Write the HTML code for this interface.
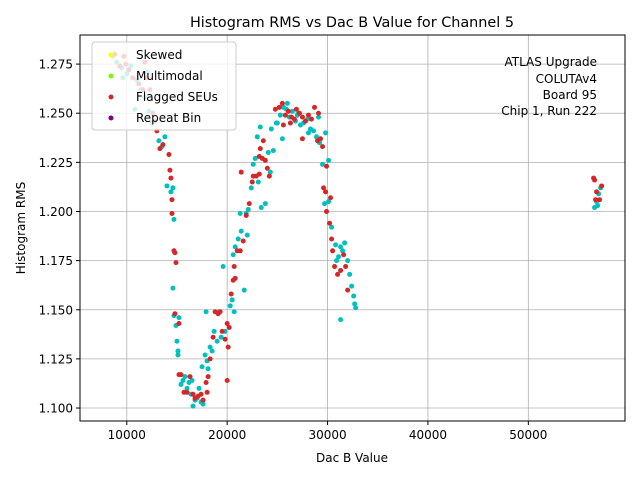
<!DOCTYPE html>
<html><head><meta charset="utf-8"><style>
body{margin:0;background:#fff;}
svg text{font-family:"DejaVu Sans","Liberation Sans",sans-serif;fill:#000;}
</style></head><body>
<svg id="chart" width="640" height="480" viewBox="0 0 640 480" xmlns="http://www.w3.org/2000/svg">
<rect width="640" height="480" fill="#fff"/>
<text x="352" y="27" text-anchor="middle" font-size="14.4">Histogram RMS vs Dac B Value for Channel 5</text>
<g id="grid"></g>
<g id="points"></g>
<rect x="80" y="35" width="545" height="386" fill="none" stroke="#000" stroke-width="1"/>
<g id="ticks"></g>
<text x="352" y="462" text-anchor="middle" font-size="12">Dac B Value</text>
<text transform="translate(25,228) rotate(-90)" text-anchor="middle" font-size="12">Histogram RMS</text>
<g font-size="12" text-anchor="end">
<text x="597" y="66">ATLAS Upgrade</text>
<text x="597" y="83">COLUTAv4</text>
<text x="597" y="99">Board 95</text>
<text x="597" y="115">Chip 1, Run 222</text>
</g>
<g>
<rect x="92" y="42" width="144" height="88" rx="3" fill="rgba(255,255,255,0.8)" stroke="#ccc"/>
<circle cx="111" cy="55" r="2.5" fill="#ffff00"/><text x="136" y="59" font-size="12">Skewed</text>
<circle cx="111" cy="76" r="2.5" fill="#7cfc00"/><text x="136" y="80" font-size="12">Multimodal</text>
<circle cx="111" cy="97" r="2.5" fill="#d62728"/><text x="136" y="101" font-size="12">Flagged SEUs</text>
<circle cx="111" cy="118" r="2.5" fill="#800080"/><text x="136" y="122" font-size="12">Repeat Bin</text>
</g>
</svg>
<script>
const xTicks=[10000,20000,30000,40000,50000];
const yTicks=[1.100,1.125,1.150,1.175,1.200,1.225,1.250,1.275];
const cyanX=[8600,9000,9500,10000,10400,11000,11400,11800,12200,12500,10800,9600,12100,
13200,13500,13800,14000,14400,14600,14700,14600,14700,14900,15000,15100,15100,15200,
15400,15600,15800,16000,16200,16400,16600,16800,17000,17200,17400,17600,17800,18000,18300,18500,18700,19000,19200,19400,19600,19800,17500,17900,18100,16500,
20300,20500,20600,20800,21100,21300,21400,21700,21900,22100,22400,22600,22800,23000,23300,23100,23400,23800,24100,24400,24600,24300,22000,20700,
25000,25300,25600,25900,26200,26500,26800,27000,27300,27600,28000,28300,28600,28900,29100,25500,24900,27100,28100,26000,
29200,29500,29700,30100,30400,30800,31100,31300,31500,31700,32000,32200,32400,32600,32700,32800,31300,30100,30900,29800,
56600,56800,57000,57200,56900];
const cyanY=[1.279,1.276,1.273,1.270,1.274,1.267,1.262,1.258,1.251,1.245,1.252,1.268,1.271,
1.236,1.233,1.238,1.213,1.210,1.212,1.196,1.161,1.147,1.142,1.134,1.129,1.127,1.146,
1.112,1.114,1.116,1.110,1.113,1.107,1.101,1.104,1.105,1.110,1.103,1.102,1.127,1.124,1.131,1.129,1.139,1.134,1.149,1.136,1.172,1.139,1.121,1.149,1.120,1.114,
1.152,1.155,1.178,1.182,1.186,1.199,1.190,1.160,1.199,1.201,1.212,1.224,1.227,1.238,1.243,1.215,1.202,1.204,1.230,1.242,1.231,1.220,1.188,1.149,
1.245,1.249,1.253,1.252,1.248,1.251,1.246,1.249,1.244,1.245,1.247,1.242,1.241,1.238,1.248,1.237,1.245,1.250,1.240,1.255,
1.235,1.224,1.204,1.205,1.192,1.183,1.177,1.182,1.180,1.184,1.175,1.168,1.162,1.157,1.153,1.151,1.145,1.226,1.175,1.240,
1.202,1.205,1.209,1.212,1.203];
const redX=[8800,9300,9700,10200,10600,11200,11600,12000,12300,12600,9900,11800,12800,
13000,13300,13600,14200,14300,14400,14500,14500,14700,14800,14900,14800,15200,15200,15400,
15700,16000,16300,16600,16800,17100,17400,17600,17900,18100,18300,18600,18800,19300,19500,19800,20000,20100,20200,20000,19100,18000,
20400,20600,20800,20700,21000,21300,21600,21900,22200,22500,22600,22900,23200,23300,23500,23800,24000,24200,23600,21400,23200,
24800,25200,25500,25800,26100,26400,26700,26900,27200,27500,27800,28100,28400,28700,29000,25600,27500,29100,26300,
29300,29500,29600,29800,29900,30200,30400,30500,30700,31000,31300,31600,31800,32000,29900,30300,
56500,56700,57100,57300,56800,56600];
const redY=[1.280,1.274,1.279,1.272,1.268,1.265,1.262,1.268,1.262,1.250,1.275,1.276,1.246,
1.241,1.232,1.234,1.229,1.221,1.217,1.206,1.199,1.180,1.179,1.174,1.148,1.143,1.117,1.117,
1.108,1.108,1.116,1.107,1.105,1.106,1.107,1.104,1.113,1.116,1.125,1.136,1.149,1.149,1.139,1.135,1.143,1.131,1.141,1.114,1.148,1.108,
1.158,1.165,1.166,1.172,1.180,1.180,1.185,1.198,1.204,1.215,1.218,1.218,1.228,1.232,1.227,1.226,1.222,1.218,1.236,1.220,1.219,
1.252,1.253,1.255,1.249,1.251,1.248,1.247,1.252,1.250,1.248,1.246,1.249,1.247,1.253,1.236,1.244,1.237,1.250,1.245,
1.237,1.233,1.212,1.210,1.200,1.194,1.186,1.180,1.172,1.168,1.170,1.178,1.172,1.160,1.223,1.207,
1.217,1.206,1.206,1.213,1.210,1.216];
const NS='http://www.w3.org/2000/svg';
const L=80,R=625,T=35,B=421;
const xMin=5340,xMax=59630,yMin=1.0934,yMax=1.2898;
function sx(v){return L+(v-xMin)/(xMax-xMin)*(R-L);}
function sy(v){return B-(v-yMin)/(yMax-yMin)*(B-T);}
function mk(tag,attrs,parent){const e=document.createElementNS(NS,tag);for(const k in attrs)e.setAttribute(k,attrs[k]);parent.appendChild(e);return e;}
const grid=document.getElementById('grid'),ticks=document.getElementById('ticks'),pts=document.getElementById('points');
xTicks.forEach(v=>{const x=sx(v);
 const g=mk('line',{x1:x,x2:x,y1:T,y2:B,stroke:'#b0b0b0','stroke-width':0.8},grid);
 
 
 const t=mk('line',{x1:x,x2:x,y1:B,y2:B+4,stroke:'#000'},ticks);
 
 
 const l=mk('text',{x:x,y:B+18,'text-anchor':'middle','font-size':12},ticks);l.textContent=String(v);
 
 
});
yTicks.forEach(v=>{const y=sy(v);
 const g=mk('line',{x1:L,x2:R,y1:y,y2:y,stroke:'#b0b0b0','stroke-width':0.8},grid);
 
 
 const t=mk('line',{x1:L-4,x2:L,y1:y,y2:y,stroke:'#000'},ticks);
 
 
 const l=mk('text',{x:L-7,y:y+4.5,'text-anchor':'end','font-size':12},ticks);l.textContent=v.toFixed(3);
 
 
});
cyanX.forEach((v,i)=>{const c=mk('circle',{cx:sx(v),cy:sy(cyanY[i]),r:2.5,fill:'#00bfbf'},pts);
 
 });
redX.forEach((v,i)=>{const c=mk('circle',{cx:sx(v),cy:sy(redY[i]),r:2.5,fill:'#d62728'},pts);
 
 });
</script>
</body></html>
